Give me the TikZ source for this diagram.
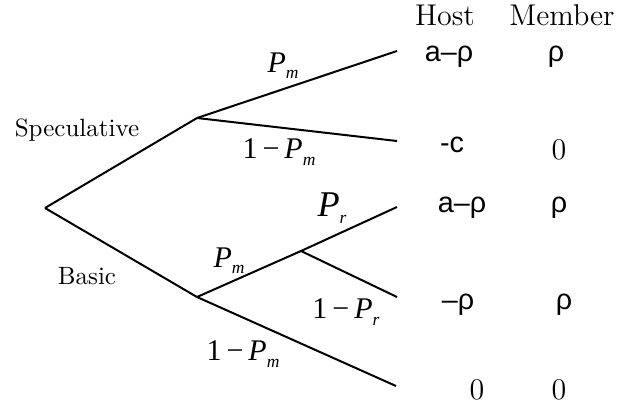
\documentclass[tikz,border=0pt]{standalone}
\usepackage{fontspec}
\usepackage{tikz}
\usetikzlibrary{positioning}
\newfontfamily\paysf{Liberation Sans}
\newfontfamily\probrm{Liberation Serif}
\newcommand{\prob}[2]{{\probrm\itshape #1}\raisebox{-0.45ex}{\probrm\itshape\scriptsize #2}}

\tikzset{
    branch/.style={line width=0.8pt},
    payoff/.style={font=\paysf\fontsize{11.5}{12}\selectfont, inner sep=0pt},
    zero/.style={font=\fontsize{12}{12}\selectfont, inner sep=0pt},
    problabel/.style={font=\probrm\fontsize{12}{12}\selectfont, inner sep=0pt},
    header/.style={font=\fontsize{12}{12}\selectfont, inner sep=0pt}
}

\begin{document}
\begin{tikzpicture}[x=0.4pt, y=-0.4pt]
    \useasboundingbox (0,0) rectangle (618,407);

    % decision points
    \coordinate (root) at (45, 208);
    \coordinate (spec) at (197, 118);
    \coordinate (basic) at (197, 297);
    \coordinate (rr) at (301, 251);

    % branch ends
    \coordinate (e1) at (397, 51);
    \coordinate (e2) at (397, 141);
    \coordinate (e3) at (397, 207);
    \coordinate (e4) at (397, 297);
    \coordinate (e5) at (396, 386);

    \draw[branch] (root) -- (spec);
    \draw[branch] (root) -- (basic);
    \draw[branch] (spec) -- (e1);
    \draw[branch] (spec) -- (e2);
    \draw[branch] (basic) -- (rr) -- (e3);
    \draw[branch] (rr) -- (e4);
    \draw[branch] (basic) -- (e5);

    % choices
    \node[font=\fontsize{10}{10}\selectfont, inner sep=0pt] (speclabel) at (77, 130) {Speculative};
    \node[font=\fontsize{10}{10}\selectfont, inner sep=0pt] (basiclabel) at (87, 276) {Basic};

    % probabilities
    \node[problabel] (pm1) at (283, 66) {\prob{P}{m}};
    \node[problabel] (qm1) at (279, 152) {1\,−\,\prob{P}{m}};
    \node[problabel, font=\probrm\fontsize{14.5}{14}\selectfont] (pr) at (332, 208) {\prob{P}{r}};
    \node[problabel] (qr) at (346, 312) {1\,−\,\prob{P}{r}};
    \node[problabel] (pm2) at (229, 261) {\prob{P}{m}};
    \node[problabel] (qm2) at (243, 354) {1\,−\,\prob{P}{m}};

    % payoffs
    \node[header] (host) at (445, 15) {Host};
    \node[header] (member) at (562, 15) {Member};

    \node[payoff] (h1) at (449, 57) {a–ρ};
    \node[payoff] (m1) at (556, 57) {ρ};
    \node[payoff] (h2) at (452, 145) {-c};
    \node[zero] (m2) at (559, 150) {0};
    \node[payoff] (h3) at (462, 208) {a–ρ};
    \node[payoff] (m3) at (559, 208) {ρ};
    \node[payoff] (h4) at (458, 305) {–ρ};
    \node[payoff] (m4) at (564, 305) {ρ};
    \node[zero] (h5) at (477, 390) {0};
    \node[zero] (m5) at (559, 390) {0};
\end{tikzpicture}
\end{document}
